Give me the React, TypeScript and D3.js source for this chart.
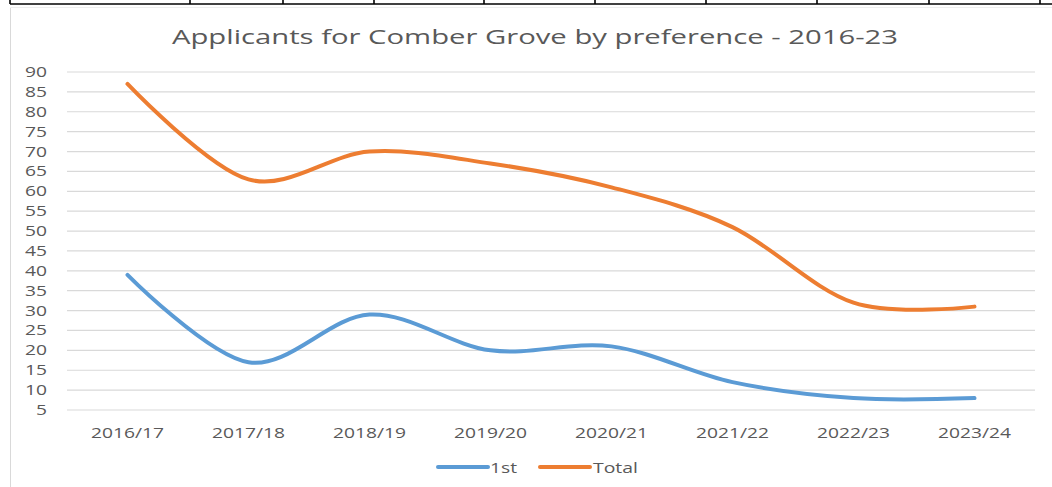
import * as d3 from "d3";

const W = 1052;
const H = 487;

// values
const seasons = ["2016/17", "2017/18", "2018/19", "2019/20", "2020/21", "2021/22", "2022/23", "2023/24"];
const firstPref = [39, 17, 29, 20, 21, 12, 8, 8];
const totalApps = [87, 63, 70, 67, 61, 51, 32, 31];
const yTicks = d3.range(5, 91, 5);
const tableCols = [10, 190, 283, 374, 484, 595, 706, 817, 929, 1040];

const series = [
  { name: "1st", values: firstPref, color: "#5B9BD5" },
  { name: "Total", values: totalApps, color: "#ED7D31" },
];

const PLOT = { left: 67, right: 1035, top: 72, bottom: 410 };
const FONT = "'Open Sans', 'DejaVu Sans', sans-serif";
const TXT = "#595959";

export default function App() {
  const x = d3.scalePoint<string>().domain(seasons).range([PLOT.left, PLOT.right]).padding(0.5);
  const y = d3.scaleLinear().domain([5, 90]).range([PLOT.bottom, PLOT.top]);

  // Excel "smoothed line" ~ uniform catmull-rom
  const line = d3
    .line<number>()
    .x((_, i) => x(seasons[i]) ?? 0)
    .y((v) => y(v))
    .curve(d3.curveCardinal.tension(0));

  return (
    <div style={{ position: "absolute", left: 0, top: 0 }}>
      <svg width={W} height={H} style={{ display: "block", background: "#fff" }}>
        {/* table edge above the chart */}
        <line x1={10} x2={W} y1={4} y2={4} stroke="#000" strokeWidth={1.6} />
        {tableCols.map((c) => (
          <line key={c} x1={c} x2={c} y1={0} y2={4} stroke="#000" strokeWidth={1.6} />
        ))}
        {/* chart frame */}
        <line x1={10.5} x2={10.5} y1={7} y2={H} stroke="#d9d9d9" />
        <line x1={10} x2={W} y1={7.5} y2={7.5} stroke="#eeeeee" />

        <text
          x={172}
          y={44}
          fontSize={20}
          fontFamily={FONT}
          fill={TXT}
          textLength={726}
          lengthAdjust="spacingAndGlyphs"
        >
          Applicants for Comber Grove by preference - 2016-23
        </text>

        {/* grid + y labels */}
        {yTicks.map((t) => (
          <g key={t}>
            <line x1={PLOT.left} x2={PLOT.right} y1={y(t)} y2={y(t)} stroke="#d9d9d9" strokeWidth={1.2} />
            <text
              x={47 - String(t).length * 11}
              y={y(t) + 5}
              fontSize={14}
              fontFamily={FONT}
              fill={TXT}
              textLength={String(t).length * 11}
              lengthAdjust="spacingAndGlyphs"
            >
              {t}
            </text>
          </g>
        ))}

        {/* x labels */}
        {seasons.map((s) => (
          <text
            key={s}
            x={(x(s) ?? 0) - 36.5}
            y={438}
            fontSize={15}
            fontFamily={FONT}
            fill={TXT}
            textLength={73}
            lengthAdjust="spacingAndGlyphs"
          >
            {s}
          </text>
        ))}

        {/* series */}
        {series.map((s) => (
          <path
            key={s.name}
            d={line(s.values) ?? ""}
            fill="none"
            stroke={s.color}
            strokeWidth={4}
            strokeLinecap="round"
            strokeLinejoin="round"
          />
        ))}

        {/* legend */}
        <line x1={438} x2={488} y1={467} y2={467} stroke="#5B9BD5" strokeWidth={4} strokeLinecap="round" />
        <text x={490} y={473} fontSize={15} fontFamily={FONT} fill={TXT} textLength={27} lengthAdjust="spacingAndGlyphs">
          1st
        </text>
        <line x1={540} x2={590} y1={467} y2={467} stroke="#ED7D31" strokeWidth={4} strokeLinecap="round" />
        <text x={593} y={473} fontSize={15} fontFamily={FONT} fill={TXT} textLength={45} lengthAdjust="spacingAndGlyphs">
          Total
        </text>
      </svg>
    </div>
  );
}
